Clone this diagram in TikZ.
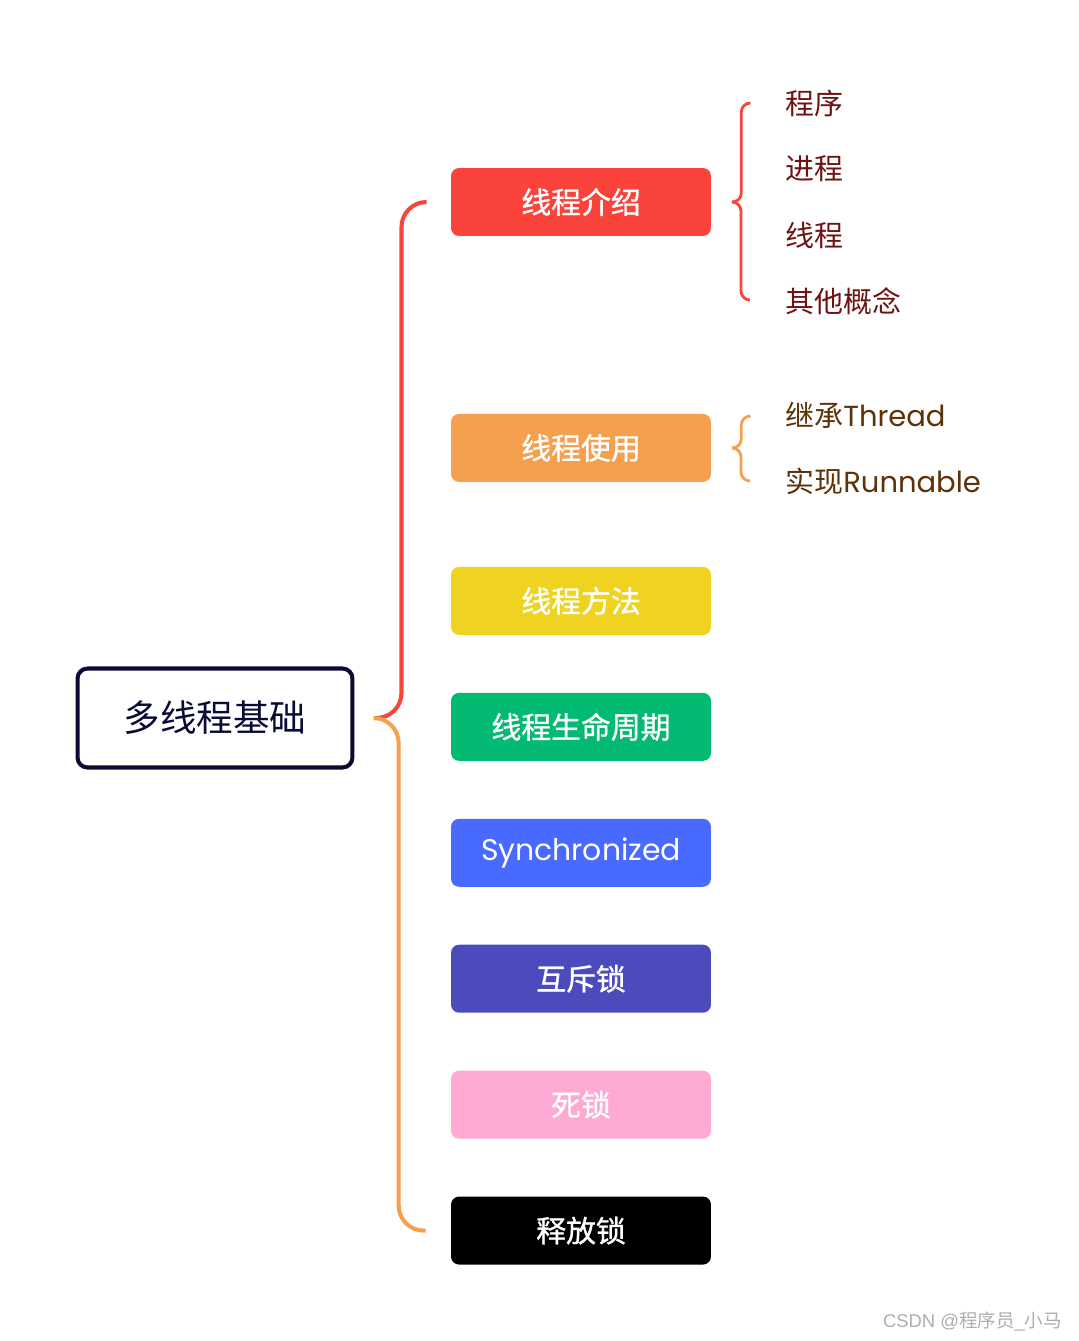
\documentclass[tikz,border=0pt]{standalone}
\usepackage{fontspec}
\setmainfont{Poppins}
\newfontfamily\cjk{Noto Sans CJK SC}
\newfontfamily\cjkm[FakeBold=1]{Noto Sans CJK SC}
\newfontfamily\wmfont{Liberation Sans}
\usetikzlibrary{positioning, calc}
\definecolor{mapNavy}  {HTML}{0A0A35}
\definecolor{mapRed}   {HTML}{FA443B}
\definecolor{mapOrange}{HTML}{F5A04E}
\definecolor{mapYellow}{HTML}{F0D321}
\definecolor{mapGreen} {HTML}{02BA72}
\definecolor{mapBlue}  {HTML}{486AFF}
\definecolor{mapIndigo}{HTML}{4C4BBE}
\definecolor{mapPink}  {HTML}{FFAAD5}
\definecolor{leafRed}  {HTML}{6E1212}
\definecolor{leafBrown}{HTML}{5E3208}
\tikzset{
  topic/.style = {rectangle, rounded corners=0.16cm, minimum width=5.2cm,
                  minimum height=1.36cm, inner sep=0pt, text=white,
                  font=\cjkm\fontsize{17}{20}\selectfont},
  rootbox/.style = {rectangle, rounded corners=0.2cm, draw=mapNavy,
                  line width=2.3pt, fill=white, minimum width=5.5cm,
                  minimum height=1.98cm, text=mapNavy,
                  font=\cjk\fontsize{20.8}{24}\selectfont},
  leaf/.style  = {anchor=west, inner sep=0pt,
                  font=\fontsize{16.5}{20}\selectfont},
  branch/.style= {line width=2.3pt, rounded corners=0.5cm},
  twig/.style  = {line width=1.6pt, rounded corners=0.18cm},
}

\begin{document}
\begin{tikzpicture}[x=0.02cm, y=-0.02cm, node distance=1.145cm]
\useasboundingbox (0,0) rectangle (1078,1341);

% root
\node[rootbox] (root) at (215,718) {多线程基础};

% topics
\node[topic, fill=mapRed]    (intro)   at (581,202) {线程介绍};
\node[topic, fill=mapOrange, below=3.546cm of intro] (usage) {线程使用};
\node[topic, fill=mapYellow, below=1.686cm of usage] (method) {线程方法};
\node[topic, fill=mapGreen,  below=of method] (life)    {线程生命周期};
\node[topic, fill=mapBlue,   below=of life]   (sync)    {\rmfamily Synchronized};
\node[topic, fill=mapIndigo, below=of sync]   (mutex)   {互斥锁};
\node[topic, fill=mapPink,   below=of mutex]  (dead)    {死锁};
\node[topic, fill=black,     below=of dead]   (release) {释放锁};

% leaves
\node[leaf, text=leafRed] (prog)   at (785,103) {\cjk 程序};
\node[leaf, text=leafRed] (proc)   at (785,169) {\cjk 进程};
\node[leaf, text=leafRed] (thread) at (785,235) {\cjk 线程};
\node[leaf, text=leafRed] (other)  at (785,301) {\cjk 其他概念};
\node[leaf, text=leafBrown] (ext)  at (785,415) {{\cjk 继承}Thread};
\node[leaf, text=leafBrown] (impl) at (785,481) {{\cjk 实现}Runnable};

% brace tips
\coordinate (rtip) at ($(root.east)+(20,0)$);
\coordinate (itip) at ($(intro.east)+(21,0)$);
\coordinate (utip) at ($(usage.east)+(21,0)$);

% main brace
\draw[branch, mapRed]    ($(intro.west)+(-25,0)$) -| ($(rtip)+(27,0)$) -- (rtip);
\draw[branch, mapOrange] (rtip) -| ($(release.west)+(-52,0)$) -- ($(release.west)+(-25,0)$);

% small braces
\draw[twig, mapRed] ($(prog.west)+(-35,0)$) -| ($(itip)+(9,0)$) -- (itip);
\draw[twig, mapRed] (itip) -| ($(other.west)+(-44,-1)$) -- ($(other.west)+(-35,-1)$);
\draw[twig, mapOrange] ($(ext.west)+(-35,1)$) -| ($(utip)+(9,0)$) -- (utip);
\draw[twig, mapOrange] (utip) -| ($(impl.west)+(-44,0)$) -- ($(impl.west)+(-35,0)$);

% watermark
\node[anchor=east, inner sep=0pt, text=black!32, font=\fontsize{10.5}{12}\selectfont]
  (mark) at (1062,1322) {\wmfont CSDN @{\cjk 程序员}\_{\cjk 小马}};

\end{tikzpicture}
\end{document}
